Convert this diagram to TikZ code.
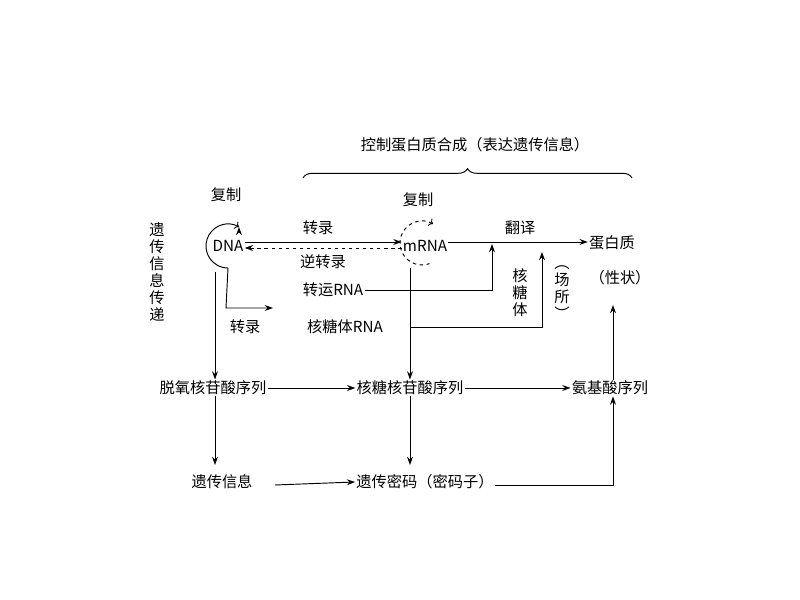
\documentclass[tikz,border=0pt]{standalone}
\usepackage{fontspec}
\setmainfont{Liberation Serif}
\newfontfamily\cjk{Noto Sans CJK SC}
\usetikzlibrary{decorations.pathreplacing,calc,arrows.meta}
\begin{document}
\begin{tikzpicture}[x=0.03cm,y=0.03cm,
    lbl/.style={inner sep=1pt,font=\fontsize{13}{15}\selectfont\cjk},
    vtxt/.style={lbl,align=center,font=\fontsize{13}{14.5}\selectfont\cjk},
    arr/.style={-{Stealth[length=7pt,width=5pt]},line width=0.8pt},
    ln/.style={line width=0.8pt}]
    \useasboundingbox (0,0) rectangle (800,600);
    % top brace
    \draw[ln,decorate,decoration={brace,amplitude=8}] (303,422) -- (632,422);
    \node[lbl] at (475,455) {控制蛋白质合成（表达遗传信息）};
    \node[vtxt] at (157,328) {遗\\传\\信\\息\\传\\递};

    % first row
    \node[lbl] (dna) at (228,354) {\fontsize{13}{15}\selectfont DNA};
    \node[lbl] (mrna) at (425,354) {\fontsize{13}{15}\selectfont mRNA};
    \node[lbl] (prot) at (612,357) {蛋白质};
    \node[lbl] (trait) at (620,322) {（性状）};
    \node[lbl] at (226,405) {复制};
    \node[lbl] at (418,400) {复制};
    \draw[arr] ($(dna)+(60:22)$) ++(0,0) coordinate (a1);
    \draw[arr,<-] (a1) arc[start angle=60,end angle=270,radius=22] coordinate (dnabot);
    \draw[arr,dashed,<-] ($(mrna)+(-3,3)+(60:22)$) arc[start angle=60,end angle=290,radius=22];

    \draw[arr] (dna.east |- 0,358) -- (mrna.west |- 0,358);
    \draw[arr,dashed] (mrna.west |- 0,352) -- (dna.east |- 0,352);
    \node[lbl] at (318,372) {转录};
    \node[lbl] at (323,338) {逆转录};
    \draw[arr] (mrna.east |- 0,358) -- (prot.west |- 0,358);
    \node[lbl] at (520,372) {翻译};

    \node[lbl] (trna) at (333,310) {转运\fontsize{13}{15}\selectfont RNA};
    \node[lbl] (rrna) at (345,273) {核糖体\fontsize{13}{15}\selectfont RNA};
    \draw[arr] (dnabot) -- (226,292) -- (273,292);
    \node[lbl] at (245,273) {转录};
    \draw[arr] (trna.east) -- (492,310) -- (492,356);
    \draw[arr] (410,273) -- (542,273) -- (542,348);
    \node[vtxt] at (520,307) {核\\糖\\体};
    \node[vtxt] at (562,307) {︵\\场\\所\\︶};

    % second row
    \node[lbl] (dnaseq) at (213,212) {脱氧核苷酸序列};
    \node[lbl] (rnaseq) at (410,212) {核糖核苷酸序列};
    \node[lbl] (aaseq) at (610,212) {氨基酸序列};
    \draw[arr] (215,328) -- (dnaseq.north -| 215,0);
    \draw[arr] (410,332) -- (rnaseq.north);
    \draw[arr] (dnaseq) -- (rnaseq);
    \draw[arr] (rnaseq) -- (aaseq);
    \draw[arr] (aaseq.north -| 613,0) -- (613,295);

    % third row
    \node[lbl] (info) at (222,118) {遗传信息};
    \node[lbl] (code) at (425,118) {遗传密码（密码子）};
    \draw[arr] (dnaseq.south -| 215,0) -- (215,135);
    \draw[arr] (rnaseq.south) -- (410,135);
    \draw[arr] (275,115) -- (code.west);
    \draw[arr] (code.east |- 0,115) -- (613,115) -- (aaseq.south -| 613,0);
\end{tikzpicture}
\end{document}
